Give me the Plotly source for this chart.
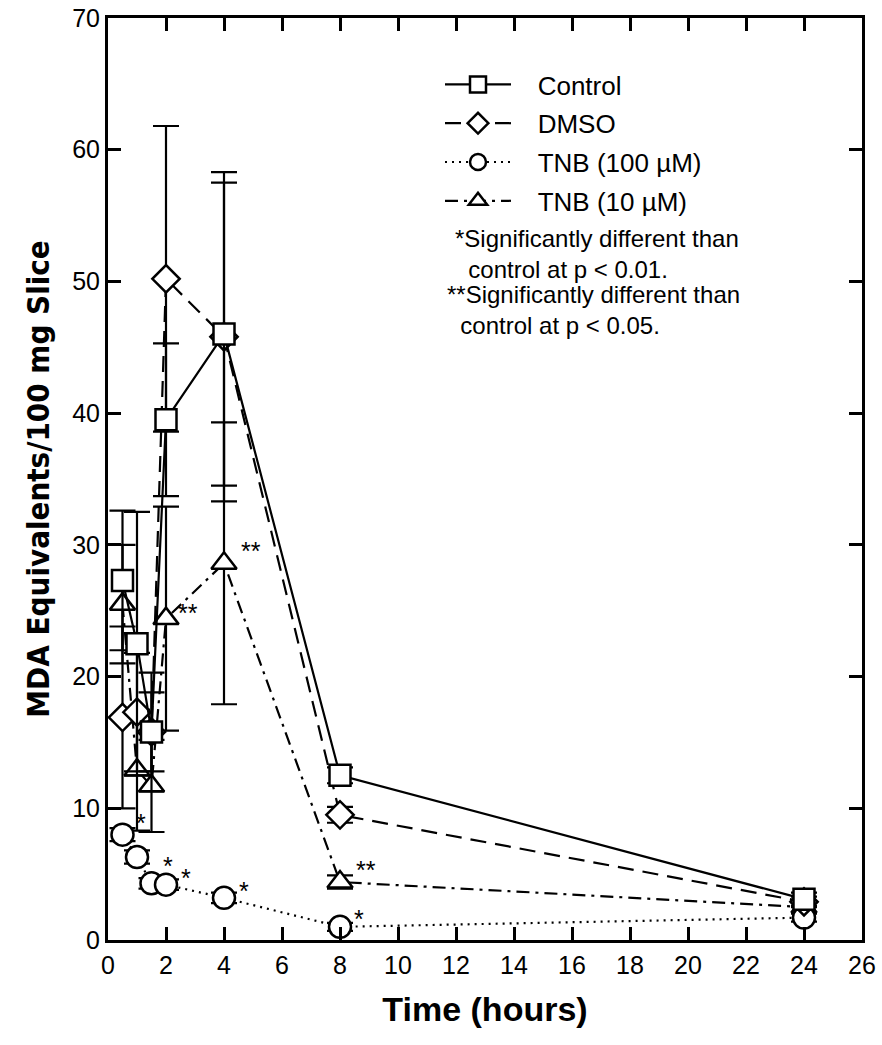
import plotly.graph_objects as go

# Sampling times (hours)
hours = [0.5, 1, 1.5, 2, 4, 8, 24]

# MDA equivalents per 100 mg slice, mean and error for each treatment
control = [27.3, 22.5, 15.8, 39.5, 46.0, 12.5, 3.1]
control_err = [5.3, 10.0, 4.5, 5.8, 11.5, 0.6, 0.5]

dmso = [16.9, 17.3, 15.8, 50.2, 45.8, 9.5, 2.9]
dmso_err = [6.9, 4.5, 3.0, 11.6, 12.5, 0.6, 0.4]

tnb100 = [8.0, 6.3, 4.3, 4.2, 3.2, 1.0, 1.7]
tnb100_err = [0.5, 0.5, 0.4, 0.4, 0.4, 0.3, 0.3]

tnb10 = [25.5, 12.9, 11.7, 24.4, 28.6, 4.4, 2.5]
tnb10_err = [4.5, 4.6, 3.5, 8.5, 10.7, 0.5, 0.4]

# Significance marks: (series values, time index, label, x shift, y shift)
sig_marks = [
    (tnb100, 0, "*", 18, 12),
    (tnb100, 2, "*", 16, 17),
    (tnb100, 3, "*", 20, 7),
    (tnb100, 4, "*", 20, 7),
    (tnb100, 5, "*", 19, 8),
    (tnb10, 3, "**", 22, 6),
    (tnb10, 4, "**", 27, 12),
    (tnb10, 5, "**", 26, 12),
]

FONT = "Liberation Sans, Arial, Helvetica, sans-serif"
NB = "\u00a0"

# name, values, errors, symbol, dash, marker size, legend rank
series = [
    ("TNB (10 µM)", tnb10, tnb10_err, "triangle-up", "13px,6px,3px,6px", 22, 4),
    ("TNB (100 µM)", tnb100, tnb100_err, "circle", "2px,5px", 22, 3),
    ("DMSO", dmso, dmso_err, "diamond", "16px,9px", 21, 2),
    ("Control", control, control_err, "square", "solid", 21, 1),
]

fig = go.Figure()
for name, vals, err, sym, dash, size, rank in series:
    fig.add_trace(go.Scatter(
        x=hours, y=vals, name=NB * 3 + name, mode="lines+markers",
        legendgroup=name, legendrank=rank,
        line=dict(color="black", width=2.2, dash=dash),
        marker=dict(symbol=sym, size=size, color="white",
                    line=dict(color="black", width=2.5)),
        error_y=dict(type="data", array=err, color="black", thickness=2.2, width=13),
    ))

for vals, idx, label, dx, dy in sig_marks:
    fig.add_annotation(x=hours[idx], y=vals[idx], text=label, showarrow=False,
                       xshift=dx, yshift=dy, font=dict(family=FONT, size=25, color="black"))

# Footnotes: (text, left pixel, centre pixel)
notes = [
    ("*Significantly different than<br>" + NB * 2 + "control at p < 0.01.", 453, 254),
    ("**Significantly different than<br>" + NB * 2 + "control at p < 0.05.", 445, 310),
]
for txt, xpix, ypix in notes:
    fig.add_annotation(x=(xpix - 108) / 754, y=(940 - ypix) / 922,
                       xref="paper", yref="paper", text=txt, showarrow=False,
                       xanchor="left", yanchor="middle", align="left",
                       font=dict(family=FONT, size=24, color="black"))

axis_common = dict(
    showline=True, linecolor="black", linewidth=3, mirror="allticks",
    ticks="inside", ticklen=13, tickwidth=2.5, tickcolor="black",
    showgrid=False, zeroline=False, automargin=False,
    tickfont=dict(family=FONT, size=25, color="black"),
)

fig.update_xaxes(range=[0, 26], tick0=0, dtick=2, ticklabelstandoff=1, **axis_common,
                 title=dict(text="<b>Time (hours)</b>", standoff=20,
                            font=dict(family=FONT, size=34, color="black")))
fig.update_yaxes(range=[0, 70], tick0=0, dtick=10, ticklabelstandoff=0, **axis_common,
                 title=dict(text="<b>MDA Equivalents/100 mg Slice</b>", standoff=14,
                            font=dict(family="DejaVu Sans Condensed, Liberation Sans, sans-serif",
                                      size=31, color="black")))

fig.update_layout(
    width=882, height=1045,
    margin=dict(l=108, r=20, t=18, b=105),
    paper_bgcolor="white", plot_bgcolor="white",
    showlegend=True,
    legend=dict(x=(440 - 108) / 754, y=(940 - 61) / 922, xanchor="left", yanchor="top",
                bgcolor="rgba(0,0,0,0)", traceorder="grouped", tracegroupgap=2,
                itemwidth=66, font=dict(family=FONT, size=26, color="black")),
)

fig.write_html("out.html")
